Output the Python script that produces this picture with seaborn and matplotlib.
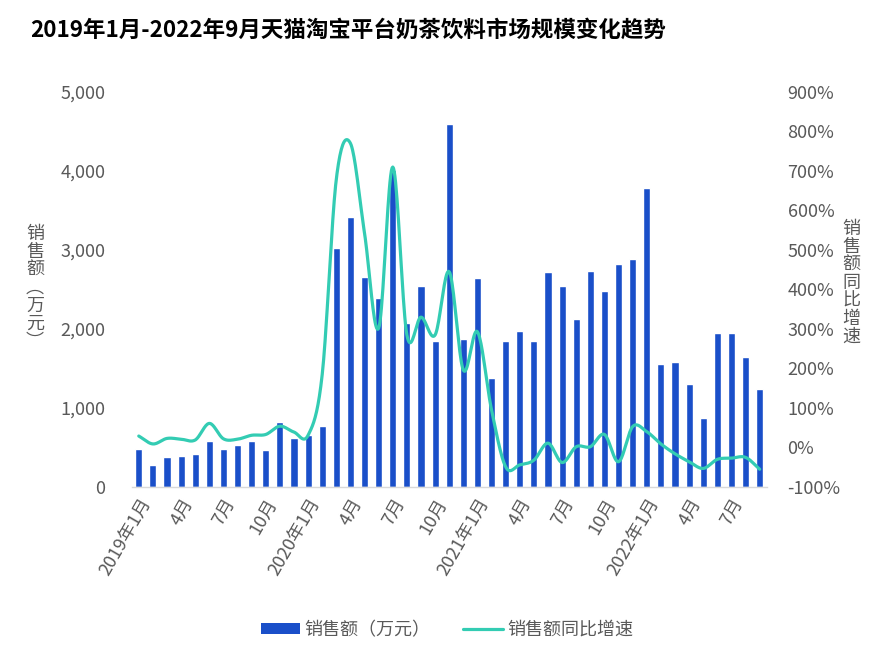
import numpy as np
import pandas as pd
import matplotlib
matplotlib.use('Agg')
import matplotlib.pyplot as plt
import seaborn as sns
from matplotlib.patches import Patch
from matplotlib.lines import Line2D
from matplotlib.ticker import FuncFormatter

# data
months = ['2019年1月', '2月', '3月', '4月', '5月', '6月', '7月', '8月', '9月', '10月', '11月', '12月',
          '2020年1月', '2月', '3月', '4月', '5月', '6月', '7月', '8月', '9月', '10月', '11月', '12月',
          '2021年1月', '2月', '3月', '4月', '5月', '6月', '7月', '8月', '9月', '10月', '11月', '12月',
          '2022年1月', '2月', '3月', '4月', '5月', '6月', '7月', '8月', '9月']
sales = [477, 275, 376, 388, 413, 578, 477, 527, 578, 464, 819, 620,
         654, 772, 3025, 3414, 2662, 2388, 4013, 2080, 2544, 1844, 4591, 1870,
         2646, 1380, 1844, 1971, 1844, 2722, 2544, 2122, 2738, 2477, 2823, 2886,
         3781, 1553, 1586, 1304, 869, 1945, 1945, 1650, 1240]
growth = [29, 9, 23, 21, 19, 61, 22, 21, 31, 33, 54, 39,
          31, 185, 680, 770, 542, 302, 710, 285, 330, 285, 445, 196,
          293, 95, -49, -44, -32, 11, -38, 2, 2, 33, -36, 53,
          40, 9, -16, -36, -53, -30, -27, -25, -55]

bar_color = '#1A4FC9'
line_color = '#33CCB3'
text_gray = '#595959'

sns.set_theme(style='white')
plt.rcParams['font.family'] = ['Noto Sans CJK SC', 'DejaVu Sans']

df = pd.DataFrame({'month': months, 'sales': sales, 'growth': growth})
df['pos'] = np.arange(len(df))


def smooth(x, y, n=20):
    # catmull-rom curve through the points, like a smoothed line in excel
    x = np.asarray(x, float)
    y = np.asarray(y, float)
    px = np.concatenate([[2 * x[0] - x[1]], x, [2 * x[-1] - x[-2]]])
    py = np.concatenate([[2 * y[0] - y[1]], y, [2 * y[-1] - y[-2]]])
    xs, ys = [], []
    t = np.linspace(0, 1, n, endpoint=False)
    for i in range(1, len(px) - 2):
        for arr, out in ((px, xs), (py, ys)):
            p0, p1, p2, p3 = arr[i - 1], arr[i], arr[i + 1], arr[i + 2]
            out.extend(0.5 * (2 * p1 + (-p0 + p2) * t + (2 * p0 - 5 * p1 + 4 * p2 - p3) * t ** 2
                              + (-p0 + 3 * p1 - 3 * p2 + p3) * t ** 3))
    xs.append(x[-1])
    ys.append(y[-1])
    return np.array(xs), np.array(ys)


fig = plt.figure(figsize=(8.7, 6.72), dpi=100)
ax = fig.add_axes([0.1514, 0.2753, 0.7299, 0.5878])

sns.barplot(data=df, x='pos', y='sales', color=bar_color, width=0.5, saturation=1, ax=ax)
ax.set_xlim(-0.5, len(df) - 0.5)
ax.set_ylim(0, 5000)
ax.set_yticks(range(0, 5001, 1000))
ax.yaxis.set_major_formatter(FuncFormatter(lambda v, p: f'{int(v):,}'))

tick_pos = list(range(0, len(df), 3))
ax.set_xticks(tick_pos)
ax.set_xticklabels([months[i] for i in tick_pos], rotation=60, ha='right', rotation_mode='anchor')
ax.set_xlabel('')
ax.set_ylabel('')

ax2 = ax.twinx()
sx, sy = smooth(df['pos'], df['growth'])
sns.lineplot(x=sx, y=sy, color=line_color, lw=2.3, sort=False, estimator=None, ax=ax2)
ax2.set_ylim(-100, 900)
ax2.set_yticks(range(-100, 901, 100))
ax2.yaxis.set_major_formatter(FuncFormatter(lambda v, p: f'{int(v)}%'))

for a in (ax, ax2):
    for s in a.spines.values():
        s.set_visible(False)
    a.tick_params(length=0, labelsize=13, colors=text_gray)
    a.grid(False)
ax.spines['bottom'].set_visible(True)
ax.spines['bottom'].set_color('#D9D9D9')
ax.spines['bottom'].set_linewidth(1)
ax.tick_params(axis='y', pad=19)
ax.tick_params(axis='x', pad=6)
ax2.tick_params(axis='y', pad=15)

# vertical stacked axis titles
fig.text(35 / 870, 1 - 288 / 672, '\n'.join('销售额︵万元︶'), ha='center', va='center',
         fontsize=13, color=text_gray, linespacing=1.0)
fig.text(851 / 870, 1 - 283 / 672, '\n'.join('销售额同比增速'), ha='center', va='center',
         fontsize=13, color=text_gray, linespacing=1.0)

fig.text(30 / 870, 1 - 30 / 672, '2019年1月-2022年9月天猫淘宝平台奶茶饮料市场规模变化趋势',
         ha='left', va='center', fontsize=16.2, fontweight='bold', color='black')

handles = [Patch(facecolor=bar_color, edgecolor='none'),
           Line2D([0], [0], color=line_color, lw=2.3)]
fig.legend(handles, ['销售额（万元）', '销售额同比增速'], loc='center',
           bbox_to_anchor=(447 / 870, 1 - 630 / 672), ncol=2, frameon=False,
           fontsize=13, labelcolor=text_gray, handlelength=2.2, handleheight=0.55,
           handletextpad=0.25, columnspacing=1.8)

fig.savefig('out.png', dpi=100)
